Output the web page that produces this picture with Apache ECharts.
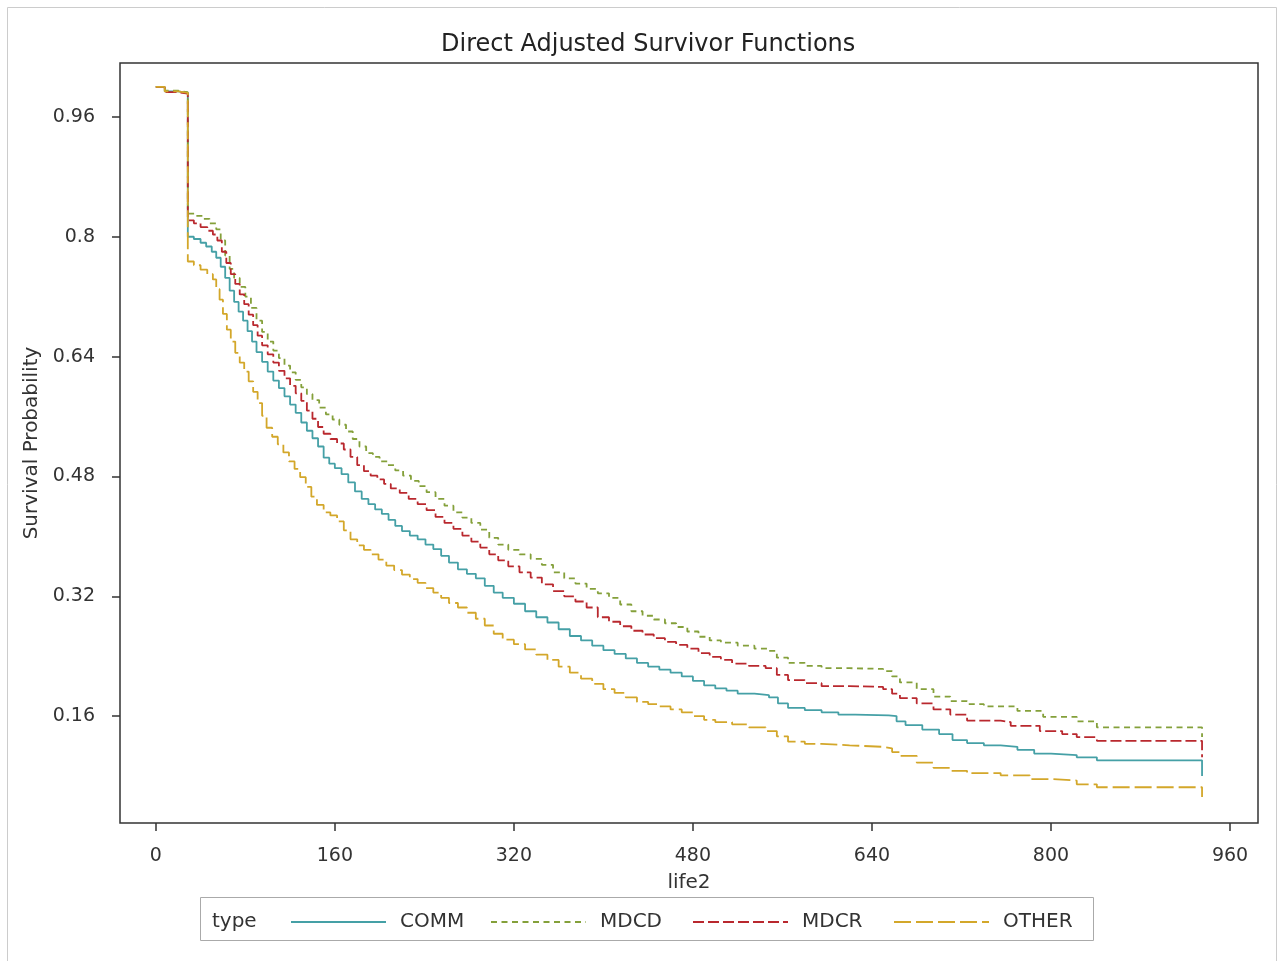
<!DOCTYPE html>
<html>
<head>
<meta charset="utf-8">
<script src="https://cdn.jsdelivr.net/npm/echarts@6/dist/echarts.min.js"></script>
<style>html,body{margin:0;padding:0;background:#fff;}#c{width:1284px;height:961px;}</style>
</head>
<body>
<div id="c"></div>
<script>
// Step survival curves: [time, survival probability]
const COMM = [[0,1.0],[8,0.994],[20,0.992],[28.6,0.800],[34,0.797],[40,0.792],[45,0.787],[50,0.780],[54,0.772],[58,0.760],[62,0.745],[66,0.728],[70,0.713],[74,0.700],[78,0.688],[82,0.674],[86,0.660],[90,0.646],[95,0.633],[100,0.620],[105,0.608],[110,0.598],[115,0.587],[120,0.576],[125,0.565],[130,0.552],[135,0.541],[140,0.531],[145,0.520],[150,0.505],[155,0.497],[160,0.491],[166,0.483],[172,0.472],[178,0.460],[184,0.450],[190,0.443],[196,0.436],[202,0.430],[208,0.422],[214,0.414],[220,0.407],[227,0.401],[234,0.396],[241,0.389],[248,0.383],[255,0.374],[262,0.365],[270,0.356],[278,0.350],[286,0.344],[294,0.334],[302,0.325],[310,0.318],[320,0.310],[330,0.300],[340,0.292],[350,0.285],[360,0.276],[370,0.267],[380,0.261],[390,0.254],[400,0.248],[410,0.243],[420,0.237],[430,0.231],[440,0.226],[450,0.222],[460,0.218],[470,0.213],[480,0.207],[490,0.201],[500,0.197],[510,0.194],[520,0.190],[535,0.188],[548,0.185],[556,0.177],[565,0.171],[580,0.168],[595,0.165],[610,0.162],[625,0.161],[655,0.160],[662,0.153],[670,0.148],[685,0.142],[700,0.136],[712,0.128],[725,0.124],[740,0.121],[755,0.119],[770,0.115],[785,0.110],[800,0.108],[823,0.105],[841,0.101],[935,0.080]];
const MDCD = [[0,1.0],[8,0.995],[20,0.993],[28.6,0.831],[35,0.828],[42,0.824],[48,0.818],[54,0.810],[58,0.795],[62,0.775],[66,0.757],[70,0.745],[75,0.733],[80,0.720],[85,0.705],[90,0.688],[95,0.673],[100,0.660],[105,0.648],[110,0.638],[115,0.628],[120,0.619],[125,0.609],[130,0.599],[135,0.590],[140,0.582],[146,0.572],[152,0.563],[158,0.556],[164,0.549],[170,0.540],[176,0.530],[182,0.520],[188,0.511],[194,0.506],[200,0.500],[207,0.495],[214,0.488],[221,0.481],[228,0.474],[235,0.467],[242,0.459],[250,0.450],[258,0.441],[266,0.432],[274,0.425],[282,0.418],[290,0.409],[298,0.398],[306,0.389],[315,0.382],[325,0.376],[335,0.370],[345,0.362],[355,0.352],[365,0.344],[375,0.337],[385,0.330],[395,0.324],[405,0.318],[415,0.309],[425,0.300],[435,0.294],[445,0.289],[455,0.284],[465,0.279],[475,0.273],[485,0.266],[495,0.261],[505,0.258],[520,0.254],[535,0.250],[548,0.247],[555,0.238],[565,0.231],[580,0.227],[595,0.224],[620,0.223],[650,0.220],[658,0.213],[665,0.205],[680,0.196],[695,0.186],[710,0.180],[725,0.176],[740,0.173],[770,0.167],[793,0.159],[823,0.153],[841,0.145],[935,0.132]];
const MDCR = [[0,1.0],[8,0.993],[20,0.991],[28.6,0.822],[34,0.818],[40,0.813],[46,0.808],[51,0.803],[55,0.795],[59,0.780],[63,0.765],[67,0.750],[71,0.737],[75,0.723],[79,0.710],[83,0.696],[87,0.682],[91,0.668],[95,0.655],[100,0.643],[105,0.632],[110,0.621],[115,0.611],[120,0.601],[125,0.591],[130,0.581],[135,0.568],[140,0.557],[145,0.546],[150,0.537],[156,0.530],[162,0.524],[168,0.516],[174,0.506],[180,0.495],[186,0.487],[192,0.481],[198,0.476],[204,0.470],[210,0.464],[218,0.458],[226,0.450],[234,0.443],[242,0.435],[250,0.426],[258,0.418],[266,0.410],[274,0.401],[282,0.393],[290,0.385],[298,0.376],[306,0.368],[315,0.360],[325,0.352],[335,0.345],[345,0.336],[355,0.327],[365,0.320],[375,0.313],[385,0.305],[395,0.292],[405,0.286],[415,0.280],[425,0.274],[435,0.269],[445,0.264],[455,0.259],[465,0.255],[475,0.250],[485,0.244],[495,0.239],[505,0.235],[515,0.230],[530,0.227],[545,0.224],[555,0.215],[565,0.208],[580,0.204],[595,0.200],[620,0.199],[650,0.196],[658,0.190],[665,0.184],[680,0.177],[695,0.169],[710,0.162],[725,0.154],[755,0.152],[764,0.147],[790,0.140],[810,0.136],[823,0.132],[841,0.127],[935,0.105]];
const OTHER = [[0,1.0],[8,0.994],[20,0.992],[28.6,0.767],[34,0.762],[40,0.756],[46,0.750],[51,0.743],[54,0.730],[57,0.716],[60,0.697],[63.5,0.676],[67,0.660],[71,0.645],[75,0.632],[79,0.620],[83,0.607],[87,0.593],[91,0.578],[95,0.561],[99,0.545],[104,0.533],[109,0.523],[114,0.512],[119,0.500],[124,0.490],[129,0.479],[134,0.466],[139,0.453],[144,0.442],[150,0.432],[156,0.428],[162,0.420],[168,0.408],[174,0.396],[180,0.388],[186,0.382],[192,0.376],[199,0.369],[206,0.361],[213,0.355],[220,0.349],[227,0.343],[234,0.338],[241,0.331],[248,0.325],[255,0.318],[262,0.311],[270,0.305],[278,0.298],[286,0.290],[294,0.281],[302,0.270],[310,0.262],[320,0.256],[330,0.249],[340,0.242],[350,0.235],[360,0.226],[370,0.218],[380,0.210],[390,0.203],[400,0.196],[410,0.191],[420,0.185],[430,0.179],[440,0.176],[450,0.173],[460,0.169],[470,0.165],[480,0.160],[490,0.155],[500,0.152],[515,0.149],[530,0.145],[545,0.140],[555,0.133],[565,0.126],[580,0.123],[595,0.121],[620,0.119],[650,0.117],[658,0.112],[665,0.107],[680,0.098],[695,0.091],[710,0.087],[725,0.084],[755,0.081],[781,0.076],[800,0.074],[823,0.069],[841,0.065],[935,0.052]];
const xTicks = [0,160,320,480,640,800,960];
const yTicks = [0.16,0.32,0.48,0.64,0.8,0.96];
const names = ['COMM','MDCD','MDCR','OTHER'];
const titleText = 'Direct Adjusted Survivor Functions';

const FONT = 'DejaVu Sans';
const chart = echarts.init(document.getElementById('c'));
const styles = {
  COMM: {color:'#45a0a6', type:'solid'},
  MDCD: {color:'#84a03a', type:[6,4.5]},
  MDCR: {color:'#b9282e', type:[11,4]},
  OTHER:{color:'#d3a72a', type:[17,5]}
};
const legendLeft = {COMM:290, MDCD:490, MDCR:692, OTHER:893};
const dataMap = {COMM, MDCD, MDCR, OTHER};
chart.setOption({
  animation:false,
  backgroundColor:'#fff',
  title:{text:titleText, left:436, top:28,
    textStyle:{fontFamily:FONT,fontSize:24,fontWeight:'normal',color:'#222'}},
  grid:{left:120,right:26,top:63,bottom:138,show:true,borderColor:'#333',borderWidth:1.5,containLabel:false},
  xAxis:{type:'value',min:-32,max:985,name:'life2',nameLocation:'middle',nameGap:50,
    nameTextStyle:{fontFamily:FONT,fontSize:20,color:'#333'},
    axisLine:{show:false,onZero:false},splitLine:{show:false},
    axisTick:{show:true,length:8,customValues:xTicks,lineStyle:{color:'#333',width:1.5}},
    axisLabel:{customValues:xTicks,margin:24,fontFamily:FONT,fontSize:19,color:'#333'}},
  yAxis:{type:'value',min:0.0173,max:1.032,name:'Survival Probability',nameLocation:'middle',nameGap:62,
    nameTextStyle:{fontFamily:FONT,fontSize:20,color:'#333'},
    axisLine:{show:false,onZero:false},splitLine:{show:false},
    axisTick:{show:true,length:8,customValues:yTicks,lineStyle:{color:'#333',width:1.5}},
    axisLabel:{customValues:yTicks,margin:25,fontFamily:FONT,fontSize:19,color:'#333'}},
  legend:names.map(n=>({data:[n],left:legendLeft[n],top:912,padding:0,itemWidth:95,itemHeight:14,
    itemStyle:{opacity:0},
    textStyle:{fontFamily:FONT,fontSize:20,color:'#333',padding:[0,0,0,9]}})),
  graphic:[
    {type:'rect',shape:{x:7.5,y:7.5,width:1269,height:960},style:{fill:'none',stroke:'#ccc',lineWidth:1},silent:true},
    {type:'rect',shape:{x:200.5,y:897.5,width:893,height:43},style:{fill:'none',stroke:'#aaa',lineWidth:1},silent:true},
    {type:'text',left:212,top:912,style:{text:'type',fontFamily:FONT,fontSize:20,fill:'#333'}}
  ],
  series:names.map(n=>({name:n,type:'line',step:'end',symbol:'none',data:dataMap[n],
    lineStyle:{color:styles[n].color,type:styles[n].type,width:1.8},itemStyle:{color:styles[n].color}}))
});
</script>
</body>
</html>
